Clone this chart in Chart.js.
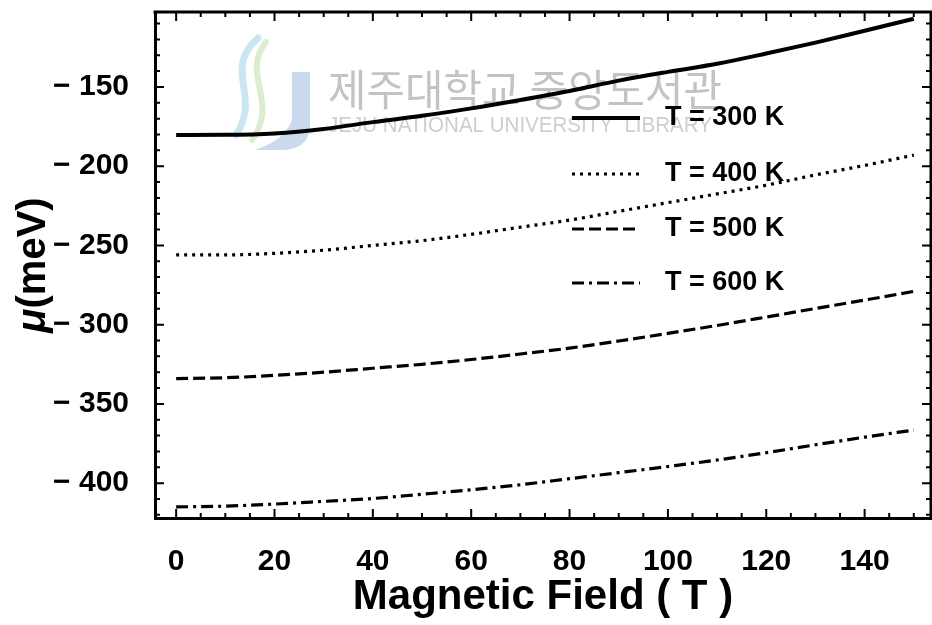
<!DOCTYPE html>
<html>
<head>
<meta charset="utf-8">
<script src="https://cdn.jsdelivr.net/npm/chart.js@4/dist/chart.umd.min.js"></script>
<style>
  html, body { margin: 0; padding: 0; background: #ffffff; }
  #wrap { width: 932px; height: 625px; }
</style>
</head>
<body>
<div id="wrap"><canvas id="c" width="932" height="625"></canvas></div>
<script>
// Magnetic field (T) at which the chemical potential is sampled
const fieldValues = [0, 10, 20, 30, 40, 50, 60, 70, 80, 90, 100, 110, 120, 130, 140, 150];

// Chemical potential mu (meV) for each temperature
const mu300K = [-180.3, -180.2, -179.3, -176.5, -172.2, -168.2, -163.5, -158.2, -152.5, -146, -140.5, -135.4, -128.9, -122, -114.5, -107];
const mu400K = [-256, -256, -255, -253, -250, -247, -243, -238.5, -234, -228.5, -223, -217.5, -212, -205.5, -199.5, -193];
const mu500K = [-334, -333.5, -332, -330, -327.5, -325, -322, -318.5, -314.8, -310.3, -305.5, -300.5, -295.2, -289.8, -284.5, -279];
const mu600K = [-415, -414.5, -413.2, -411.5, -409.7, -407, -404.2, -401, -397.2, -393.4, -389.5, -385.4, -380.8, -375.8, -371, -366.5];

const seriesLabels = ['T = 300 K', 'T = 400 K', 'T = 500 K', 'T = 600 K'];

// Axis tick labels
const xTickValues = [0, 20, 40, 60, 80, 100, 120, 140];
const yTickValues = [-400, -350, -300, -250, -200, -150];

const FONT = '"Liberation Sans", Arial, Helvetica, sans-serif';

function toPoints(values) {
  return fieldValues.map((x, i) => ({ x: x, y: values[i] }));
}

const lineStyles = [
  { dash: [], width: 4 },
  { dash: [3, 5], width: 3.2 },
  { dash: [12, 5], width: 3.2 },
  { dash: [12, 5, 3, 5], width: 3.2 }
];

const seriesValues = [mu300K, mu400K, mu500K, mu600K];

const datasets = seriesValues.map((vals, i) => ({
  label: seriesLabels[i],
  data: toPoints(vals),
  borderColor: '#000000',
  borderWidth: lineStyles[i].width,
  borderDash: lineStyles[i].dash,
  pointRadius: 0,
  fill: false,
  cubicInterpolationMode: 'monotone'
}));

// Faint library stamp behind the curves
const stampPlugin = {
  id: 'stamp',
  beforeDatasetsDraw(chart) {
    const ctx = chart.ctx;
    ctx.save();
    // emblem: swooshes and a J shape
    ctx.lineCap = 'round';
    ctx.strokeStyle = 'rgba(150,205,230,0.5)';
    ctx.lineWidth = 7;
    ctx.beginPath();
    ctx.moveTo(258, 38);
    ctx.bezierCurveTo(222, 70, 262, 95, 236, 135);
    ctx.stroke();
    ctx.strokeStyle = 'rgba(185,220,160,0.5)';
    ctx.lineWidth = 6;
    ctx.beginPath();
    ctx.moveTo(266, 42);
    ctx.bezierCurveTo(240, 75, 280, 100, 252, 140);
    ctx.stroke();
    ctx.fillStyle = 'rgba(160,185,225,0.55)';
    ctx.beginPath();
    ctx.moveTo(292, 72);
    ctx.lineTo(310, 72);
    ctx.lineTo(310, 128);
    ctx.quadraticCurveTo(308, 150, 280, 150);
    ctx.lineTo(255, 150);
    ctx.quadraticCurveTo(285, 140, 292, 120);
    ctx.closePath();
    ctx.fill();
    // name of the library
    ctx.fillStyle = 'rgba(170,170,170,0.7)';
    ctx.textBaseline = 'middle';
    ctx.textAlign = 'left';
    ctx.font = '43px "Noto Sans CJK KR", sans-serif';
    ctx.fillText('제주대학교 중앙도서관', 328, 90, 394);
    ctx.fillStyle = 'rgba(185,185,185,0.7)';
    ctx.font = '22px "Liberation Sans", Arial, sans-serif';
    ctx.fillText('JEJU NATIONAL UNIVERSITY  LIBRARY', 328, 126, 384);
    ctx.restore();
  }
};

// Closed frame with inward ticks, legend and the rotated y title
const framePlugin = {
  id: 'frame',
  afterDraw(chart) {
    const ctx = chart.ctx;
    const a = chart.chartArea;
    const xs = chart.scales.x;
    const ys = chart.scales.y;
    ctx.save();
    ctx.strokeStyle = '#000';
    ctx.lineCap = 'butt';

    // top and right edges
    ctx.lineWidth = 3;
    ctx.beginPath();
    ctx.moveTo(a.left - 1.5, a.top);
    ctx.lineTo(a.right, a.top);
    ctx.lineTo(a.right, a.bottom);
    ctx.stroke();

    ctx.lineWidth = 2;
    const major = 9, minor = 5;
    // x ticks, every 5 T, longer every 20 T
    for (let v = 0; v <= xs.max; v += 5) {
      const px = xs.getPixelForValue(v);
      const len = (v % 20 === 0) ? major : minor;
      ctx.beginPath();
      ctx.moveTo(px, a.bottom);
      ctx.lineTo(px, a.bottom - len);
      ctx.moveTo(px, a.top);
      ctx.lineTo(px, a.top + len);
      ctx.stroke();
    }
    // y ticks, every 10 meV, longer every 50 meV
    for (let v = -420; v <= ys.max; v += 10) {
      const py = ys.getPixelForValue(v);
      const len = (v % 50 === 0) ? major : minor;
      ctx.beginPath();
      ctx.moveTo(a.left, py);
      ctx.lineTo(a.left + len, py);
      ctx.moveTo(a.right, py);
      ctx.lineTo(a.right - len, py);
      ctx.stroke();
    }

    // legend
    const rows = [118, 174, 229, 283];
    chart.data.datasets.forEach((ds, i) => {
      const y = rows[i];
      ctx.lineWidth = ds.borderWidth;
      ctx.setLineDash(ds.borderDash);
      ctx.beginPath();
      ctx.moveTo(572, y);
      ctx.lineTo(640, y);
      ctx.stroke();
      ctx.setLineDash([]);
      ctx.fillStyle = '#000';
      ctx.font = 'bold 27px ' + FONT;
      ctx.textBaseline = 'middle';
      ctx.textAlign = 'left';
      ctx.fillText(ds.label, 665, y);
    });

    // y axis title
    ctx.translate(34, (a.top + a.bottom) / 2);
    ctx.rotate(-Math.PI / 2);
    const muFont = 'italic bold 40px ' + FONT;
    const restFont = 'bold 40px ' + FONT;
    ctx.font = muFont;
    const w1 = ctx.measureText('\u03bc').width;
    ctx.font = restFont;
    const w2 = ctx.measureText('(meV)').width;
    const x0 = -(w1 + w2) / 2;
    ctx.textBaseline = 'middle';
    ctx.textAlign = 'left';
    ctx.fillStyle = '#000';
    ctx.font = muFont;
    ctx.fillText('\u03bc', x0, 0);
    ctx.font = restFont;
    ctx.fillText('(meV)', x0 + w1, 0);
    ctx.restore();
  }
};

new Chart(document.getElementById('c'), {
  type: 'line',
  data: { datasets: datasets },
  options: {
    responsive: false,
    animation: false,
    events: [],
    layout: { padding: { top: 12, right: 1, left: 0, bottom: 0 } },
    plugins: { legend: { display: false }, tooltip: { enabled: false } },
    scales: {
      x: {
        type: 'linear',
        min: -4.3,
        max: 153.5,
        grid: { display: false },
        border: { display: true, width: 3, color: '#000' },
        afterBuildTicks: s => { s.ticks = xTickValues.map(v => ({ value: v })); },
        afterFit: s => { s.height = 107; s.paddingLeft = 0; s.paddingRight = 0; },
        ticks: {
          color: '#000',
          padding: 18,
          maxRotation: 0,
          autoSkip: false,
          font: { family: FONT, size: 30, weight: 'bold' }
        },
        title: {
          display: true,
          text: 'Magnetic Field ( T )',
          color: '#000',
          font: { family: FONT, size: 42, weight: 'bold' },
          padding: { top: 0, bottom: 2 }
        }
      },
      y: {
        type: 'linear',
        min: -422,
        max: -102.7,
        grid: { display: false },
        border: { display: true, width: 3, color: '#000' },
        afterBuildTicks: s => { s.ticks = yTickValues.map(v => ({ value: v })); },
        afterFit: s => { s.width = 155; s.paddingTop = 0; s.paddingBottom = 0; },
        ticks: {
          color: '#000',
          padding: 18,
          font: { family: FONT, size: 30, weight: 'bold' },
          callback: v => '\u2212 ' + Math.abs(v)
        }
      }
    }
  },
  plugins: [stampPlugin, framePlugin]
});
</script>
</body>
</html>
